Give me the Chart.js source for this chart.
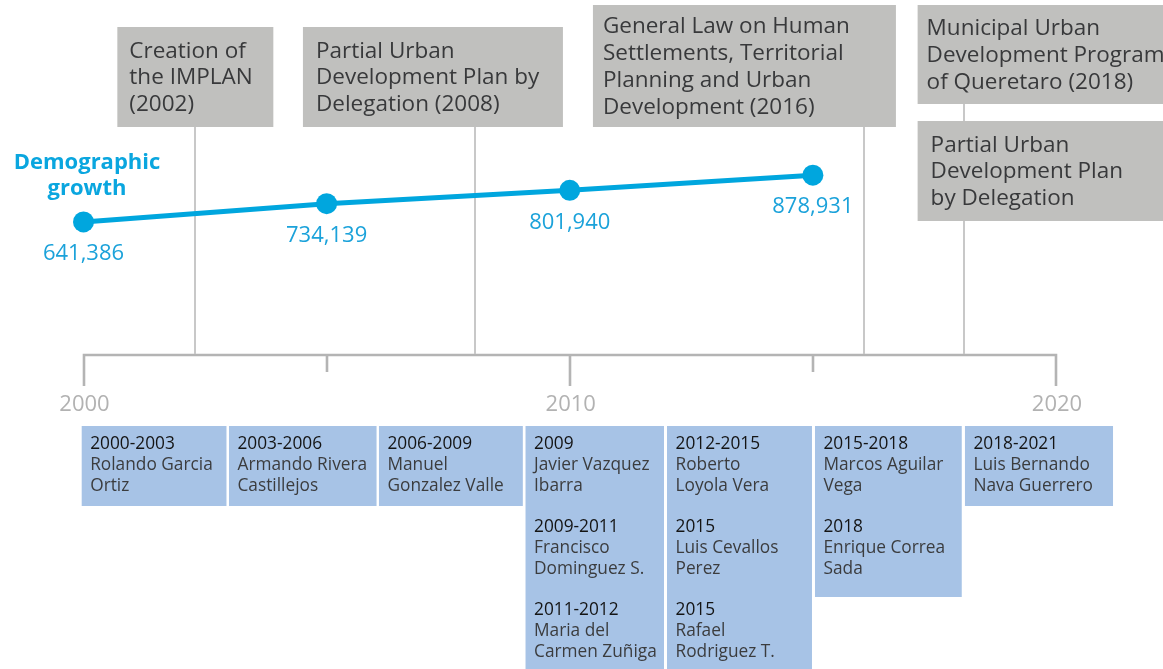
<!DOCTYPE html>
<html>
<head>
<meta charset="utf-8">
<script src="https://cdn.jsdelivr.net/npm/chart.js@4.4.1/dist/chart.umd.min.js"></script>
<style>
  html, body { margin: 0; padding: 0; background: #fff; }
  canvas { display: block; }
</style>
</head>
<body>
<canvas id="timeline" width="1163" height="669"></canvas>
<script>
// census points (demographic growth)
const censusYears = [2000, 2005, 2010, 2015];
const population = [641386, 734139, 801940, 878931];

// time axis
const axisTicks = [2000, 2005, 2010, 2015, 2020];
const axisLabels = ["2000", "", "2010", "", "2020"];

// planning instruments, drawn above the line
const eventYears = [2002.3, 2008.05, 2016.05, 2018.1];
const eventTexts = [
  [["Creation of", "the IMPLAN", "(2002)"]],
  [["Partial Urban", "Development Plan by", "Delegation (2008)"]],
  [["General Law on Human", "Settlements, Territorial", "Planning and Urban", "Development (2016)"]],
  [["Municipal Urban", "Development Program", "of Queretaro (2018)"], ["Partial Urban", "Development Plan", "by Delegation"]],
];

// municipal presidents, drawn under the axis
const termStarts = [2000, 2003, 2006, 2009, 2012, 2015, 2018];
const termEnds = [2003, 2006, 2009, 2012, 2015, 2018, 2021];
const presidents = [
  [["2000-2003", "Rolando Garcia", "Ortiz"]],
  [["2003-2006", "Armando Rivera", "Castillejos"]],
  [["2006-2009", "Manuel", "Gonzalez Valle"]],
  [["2009", "Javier Vazquez", "Ibarra"], ["2009-2011", "Francisco", "Dominguez S."], ["2011-2012", "Maria del", "Carmen Zuñiga"]],
  [["2012-2015", "Roberto", "Loyola Vera"], ["2015", "Luis Cevallos", "Perez"], ["2015", "Rafael", "Rodriguez T."]],
  [["2015-2018", "Marcos Aguilar", "Vega"], ["2018", "Enrique Correa", "Sada"]],
  [["2018-2021", "Luis Bernando", "Nava Guerrero"]],
];

// layout (pixels)
const FONT = "'Open Sans', 'Noto Sans', sans-serif";
const BLUE = "#00a6de";
const AXIS_Y = 355;
// gray boxes: horizontal offsets from the event line, vertical extent
const eventBoxes = [
  [{ dl: -78, dr: 78, top: 27, bottom: 127, pad: 12 }],
  [{ dl: -172, dr: 88, top: 27, bottom: 127, pad: 13 }],
  [{ dl: -271, dr: 32, top: 5, bottom: 127, pad: 10 }],
  [{ dl: -46, dr: 215, top: 5, bottom: 104, pad: 9 }, { dl: -46, dr: 215, top: 121, bottom: 221, pad: 13 }],
];
// blue boxes: nudges of the left / right edge from the term years
const termDl = [-1.8, -0.4, 3.7, 4.4, 0, 2.1, 6.2];
const termDr = [-2.9, 1.3, 1.7, -3, -0.9, 3, 8.4];
const TERM_TOP = 426;

const timelinePlugin = {
  id: "timeline",
  beforeDatasetsDraw(chart) {
    const { ctx, scales: { x } } = chart;
    ctx.save();

    // axis with long ticks at decades, short at half decades
    ctx.strokeStyle = "#b4b4b4";
    ctx.lineWidth = 2.6;
    ctx.beginPath();
    ctx.moveTo(x.getPixelForValue(axisTicks[0]), AXIS_Y);
    ctx.lineTo(x.getPixelForValue(axisTicks[axisTicks.length - 1]), AXIS_Y);
    axisTicks.forEach((t, i) => {
      const px = Math.round(x.getPixelForValue(t));
      ctx.moveTo(px, AXIS_Y - 1.3);
      ctx.lineTo(px, AXIS_Y + (axisLabels[i] ? 31 : 17));
    });
    ctx.stroke();

    ctx.fillStyle = "#b2b2b2";
    ctx.font = "22px " + FONT;
    ctx.textAlign = "center";
    ctx.textBaseline = "middle";
    axisTicks.forEach((t, i) => {
      if (axisLabels[i]) ctx.fillText(axisLabels[i], x.getPixelForValue(t) + 1, 405);
    });

    // event stems
    ctx.strokeStyle = "#c8c8c8";
    ctx.lineWidth = 2;
    eventYears.forEach((yr, i) => {
      const px = Math.round(x.getPixelForValue(yr));
      ctx.beginPath();
      ctx.moveTo(px, eventBoxes[i][0].bottom);
      ctx.lineTo(px, AXIS_Y - 1);
      ctx.stroke();
    });

    // event boxes
    ctx.textAlign = "left";
    ctx.font = "22.5px " + FONT;
    eventYears.forEach((yr, i) => {
      const px = x.getPixelForValue(yr);
      eventBoxes[i].forEach((b, j) => {
        ctx.fillStyle = "#c0c0be";
        ctx.fillRect(px + b.dl, b.top, b.dr - b.dl, b.bottom - b.top);
        const lines = eventTexts[i][j];
        const lh = 26.8;
        const mid = (b.top + b.bottom) / 2 + 1;
        ctx.fillStyle = "#38393b";
        lines.forEach((s, k) => {
          ctx.fillText(s, px + b.dl + b.pad, mid + (k - (lines.length - 1) / 2) * lh);
        });
      });
    });

    // president terms
    ctx.font = "17.3px " + FONT;
    termStarts.forEach((s, i) => {
      const x0 = x.getPixelForValue(s) + termDl[i];
      const x1 = x.getPixelForValue(termEnds[i]) + termDr[i];
      const entries = presidents[i];
      const h = 80 + (entries.length - 1) * 91;
      ctx.fillStyle = "#a7c3e6";
      ctx.fillRect(x0, TERM_TOP, x1 - x0, h);
      entries.forEach((lines, e) => {
        lines.forEach((str, k) => {
          ctx.fillStyle = k === 0 ? "#141414" : "#3b3c3e";
          ctx.fillText(str, x0 + 8.5, TERM_TOP + 18 + e * 83 + k * 20.8);
        });
      });
    });
    ctx.restore();
  },
  afterDatasetsDraw(chart) {
    const { ctx } = chart;
    const meta = chart.getDatasetMeta(0);
    ctx.save();
    ctx.textAlign = "center";
    ctx.textBaseline = "middle";
    ctx.fillStyle = "#1ba2da";
    ctx.font = "22px " + FONT;
    meta.data.forEach((pt, i) => {
      ctx.fillText(population[i].toLocaleString("en-US"), pt.x, pt.y + 32);
    });
    ctx.fillStyle = "#0aa6df";
    ctx.font = "bold 22px " + FONT;
    ctx.fillText("Demographic", 87, 162.5);
    ctx.fillText("growth", 87, 189);
    ctx.restore();
  },
};

new Chart(document.getElementById("timeline"), {
  type: "line",
  data: {
    datasets: [
      {
        data: censusYears.map((yr, i) => ({ x: yr, y: population[i] })),
        borderColor: BLUE,
        backgroundColor: BLUE,
        borderWidth: 5,
        pointRadius: 10.5,
        pointBorderWidth: 0,
        pointBackgroundColor: BLUE,
        tension: 0,
        clip: false,
      },
    ],
  },
  options: {
    responsive: false,
    animation: false,
    devicePixelRatio: 1,
    layout: { autoPadding: false, padding: { left: 83.5, right: 107, top: 0, bottom: 321 } },
    plugins: { legend: { display: false }, tooltip: { enabled: false } },
    scales: {
      x: { type: "linear", min: 2000, max: 2020, display: false },
      y: { type: "linear", min: 0, max: 1770000, display: false },
    },
  },
  plugins: [timelinePlugin],
});
</script>
</body>
</html>
